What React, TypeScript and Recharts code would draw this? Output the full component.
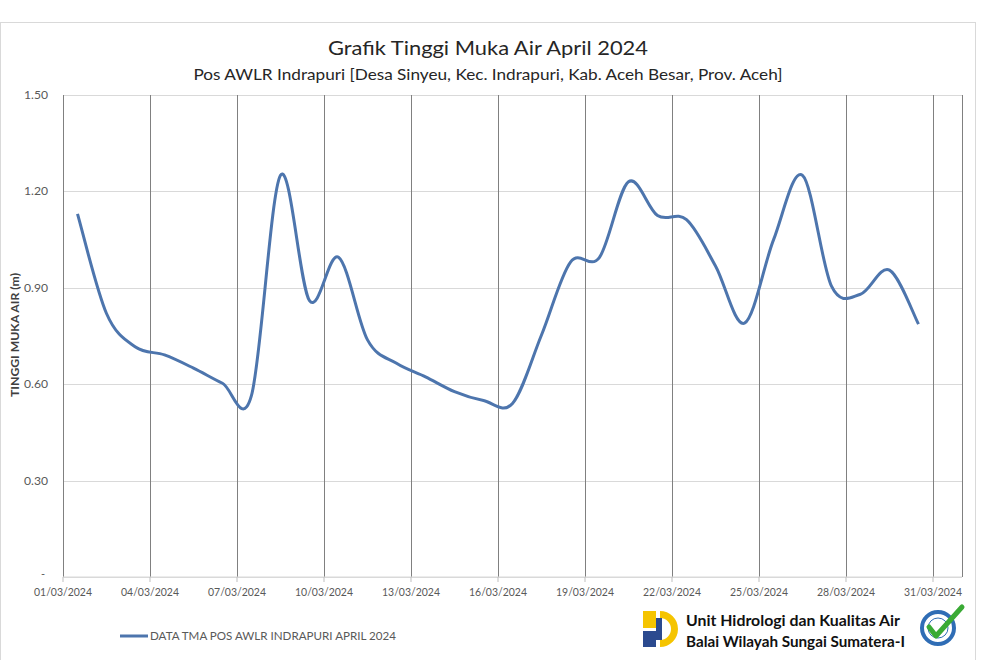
import React from 'react';
import { LineChart, Line, XAxis, YAxis, CartesianGrid } from 'recharts';

const dates = [
  '01/03/2024', '02/03/2024', '03/03/2024', '04/03/2024', '05/03/2024', '06/03/2024',
  '07/03/2024', '08/03/2024', '09/03/2024', '10/03/2024', '11/03/2024', '12/03/2024',
  '13/03/2024', '14/03/2024', '15/03/2024', '16/03/2024', '17/03/2024', '18/03/2024',
  '19/03/2024', '20/03/2024', '21/03/2024', '22/03/2024', '23/03/2024', '24/03/2024',
  '25/03/2024', '26/03/2024', '27/03/2024', '28/03/2024', '29/03/2024', '30/03/2024',
];
const tmaValues = [
  1.13, 0.82, 0.716, 0.691, 0.65, 0.603, 0.565, 1.25, 0.86, 0.995,
  0.738, 0.665, 0.623, 0.577, 0.549, 0.54, 0.753, 0.98, 0.995, 1.23,
  1.125, 1.112, 0.968, 0.79, 1.049, 1.25, 0.905, 0.88, 0.955, 0.787,
];
const xTickLabels = [
  '01/03/2024', '04/03/2024', '07/03/2024', '10/03/2024', '13/03/2024', '16/03/2024',
  '19/03/2024', '22/03/2024', '25/03/2024', '28/03/2024', '31/03/2024',
];
const yTicks = [0, 0.3, 0.6, 0.9, 1.2, 1.5];

const TITLE = 'Grafik Tinggi Muka Air April 2024';
const SUBTITLE = 'Pos AWLR Indrapuri [Desa Sinyeu, Kec. Indrapuri, Kab. Aceh Besar, Prov. Aceh]';
const Y_TITLE = 'TINGGI MUKA AIR (m)';
const SERIES_NAME = 'DATA TMA POS AWLR INDRAPURI APRIL 2024';
const FOOT1 = 'Unit Hidrologi dan Kualitas Air';
const FOOT2 = 'Balai Wilayah Sungai Sumatera-I';

const data = tmaValues.map((v, i) => ({ x: i + 0.5, date: dates[i], tma: v }));
const xTicks = xTickLabels.map((_, i) => i * 3);

const FONT = 'Lato, "Open Sans", sans-serif';
const LINE_COLOR = '#4d75ad';

// Excel-like smoothed curve (Catmull-Rom style bezier, 1/6 tension)
function excelCurve(context: any) {
  let pts: number[][] = [];
  return {
    areaStart() {},
    areaEnd() {},
    lineStart() { pts = []; },
    lineEnd() {
      const n = pts.length;
      if (!n) return;
      context.moveTo(pts[0][0], pts[0][1]);
      if (n === 1) return;
      for (let i = 0; i < n - 1; i++) {
        const p0 = pts[i - 1] || pts[i];
        const p1 = pts[i];
        const p2 = pts[i + 1];
        const p3 = pts[i + 2] || pts[i + 1];
        const c1x = p1[0] + (p2[0] - p0[0]) / 6;
        const c1y = p1[1] + (p2[1] - p0[1]) / 6;
        const c2x = p2[0] - (p3[0] - p1[0]) / 6;
        const c2y = p2[1] - (p3[1] - p1[1]) / 6;
        context.bezierCurveTo(c1x, c1y, c2x, c2y, p2[0], p2[1]);
      }
    },
    point(x: number, y: number) { pts.push([+x, +y]); },
  };
}

const snap = (v: number) => Math.round(v) + 0.5;

const hLine = (p: any) => (
  <line key={p.key} x1={p.x1} x2={p.x2} y1={snap(p.y1)} y2={snap(p.y2)} stroke="#d9d9d9" strokeWidth={1} fill="none" />
);
const vLine = (p: any) => (
  <line key={p.key} x1={snap(p.x1)} x2={snap(p.x2)} y1={p.y1} y2={p.y2} stroke="#808080" strokeWidth={1} fill="none" />
);

const XTick = (props: any) => {
  const { x, y, payload } = props;
  const label = xTickLabels[Math.round(payload.value / 3)];
  return (
    <text x={x} y={y} dy="0.71em" textAnchor="middle" fill="#595959" fontSize={11}
      fontFamily={FONT} textLength={58} lengthAdjust="spacingAndGlyphs">{label}</text>
  );
};

const YTick = (props: any) => {
  const { x, y, payload } = props;
  if (payload.value === 0) {
    return <text x={x - 3} y={y} dy="0.1em" textAnchor="end" fill="#595959" fontSize={11} fontFamily={FONT}>-</text>;
  }
  return (
    <text x={x} y={y} dy="0.36em" textAnchor="end" fill="#595959" fontSize={11}
      fontFamily={FONT} textLength={24} lengthAdjust="spacingAndGlyphs">{payload.value.toFixed(2)}</text>
  );
};

export default function App() {
  return (
    <div style={{ position: 'absolute', left: 0, top: 0, width: 984, height: 660, background: '#fff', overflow: 'hidden' }}>
      <LineChart width={984} height={660} data={data} margin={{ top: 95, right: 22, bottom: 53, left: 3 }}>
        <CartesianGrid horizontal={hLine} vertical={false} stroke="#d9d9d9" />
        <CartesianGrid horizontal={false} vertical={vLine} stroke="#808080" />
        <XAxis type="number" dataKey="x" domain={[0, 31]} ticks={xTicks} interval={0}
          height={30} tickSize={5} tickMargin={6} axisLine={{ stroke: '#d9d9d9' }}
          tickLine={{ stroke: '#bfbfbf' }} tick={<XTick />} allowDataOverflow />
        <YAxis type="number" domain={[0, 1.5]} ticks={yTicks} interval={0} width={60}
          tickSize={6} tickMargin={9} axisLine={false} tickLine={false} tick={<YTick />} />
        <Line type={excelCurve as any} dataKey="tma" name={SERIES_NAME} stroke={LINE_COLOR}
          strokeWidth={3} dot={false} activeDot={false} isAnimationActive={false} />
      </LineChart>
      <svg width={984} height={660} style={{ position: 'absolute', left: 0, top: 0, pointerEvents: 'none' }}>
        <rect x={0.5} y={22.5} width={975} height={660} fill="none" stroke="#d9d9d9" />
        <text x={488} y={55} textAnchor="middle" fontSize={20} fill="#262626" fontFamily={FONT}
          textLength={320} lengthAdjust="spacingAndGlyphs">{TITLE}</text>
        <text x={488} y={80} textAnchor="middle" fontSize={16} fill="#262626" fontFamily={FONT}
          textLength={589} lengthAdjust="spacingAndGlyphs">{SUBTITLE}</text>
        <text transform="translate(19,335) rotate(-90)" textAnchor="middle" fontSize={11} fontWeight="bold"
          fill="#404040" fontFamily={FONT} textLength={124} lengthAdjust="spacingAndGlyphs">{Y_TITLE}</text>
        <line x1={120} y1={636} x2={148} y2={636} stroke={LINE_COLOR} strokeWidth={3} />
        <text x={150} y={640} fontSize={11} fill="#595959" fontFamily={FONT}
          textLength={246} lengthAdjust="spacingAndGlyphs">{SERIES_NAME}</text>
        {/* PU logo approximation */}
        <g>
          <rect x={643} y={611} width={13} height={17} fill="#f5c400" />
          <path d="M660 611 A18 18 0 0 1 660 647 L660 640 A11 11 0 0 0 660 618 Z" fill="#f5c400" />
          <rect x={643} y={631} width={13} height={16} fill="#2b4a8f" />
          <rect x={656} y={618} width={6} height={22} fill="#2b4a8f" />
        </g>
        <text x={686} y={626} fontSize={15} fontWeight="bold" fill="#111" fontFamily={FONT}
          textLength={214} lengthAdjust="spacingAndGlyphs">{FOOT1}</text>
        <text x={686} y={647} fontSize={15} fontWeight="bold" fill="#111" fontFamily={FONT}
          textLength={219} lengthAdjust="spacingAndGlyphs">{FOOT2}</text>
        {/* certification badge approximation */}
        <g>
          <circle cx={938} cy={628} r={16} fill="#fff" stroke="#2f6db5" strokeWidth={4} />
          <circle cx={938} cy={628} r={10} fill="none" stroke="#2f6db5" strokeWidth={1} />
          <path d="M929 627 L936 636 L962 607" fill="none" stroke="#3aaa35" strokeWidth={5} strokeLinecap="round" strokeLinejoin="round" />
        </g>
      </svg>
    </div>
  );
}
